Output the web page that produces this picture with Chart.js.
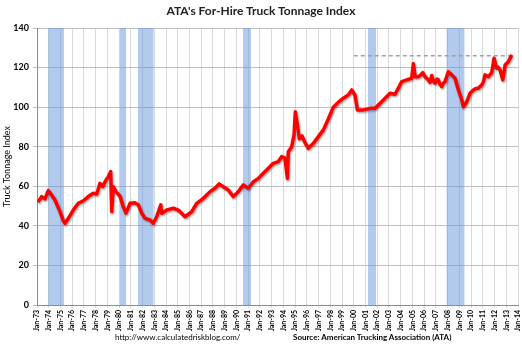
<!DOCTYPE html>
<html lang="en">
<head>
<meta charset="UTF-8">
<title>ATA's For-Hire Truck Tonnage Index</title>
<script src="https://cdn.jsdelivr.net/npm/chart.js"></script>
<style>
    body { margin: 0; background: #fff; font-family: 'Lato', 'Open Sans', sans-serif; }
    .wrap { position: relative; width: 522px; height: 351px; }
    .title { position: absolute; left: 0; width: 522px; top: 3px; text-align: center;
             font-size: 12px; font-weight: bold; color: #222; }
    .foot { position: absolute; top: 332px; font-size: 8px; color: #000; white-space: nowrap; }
    .url { left: 115px; }
    .src { left: 293px; font-weight: bold; }
</style>
</head>
<body>
<div class="wrap">
    <canvas id="chart" width="522" height="351"></canvas>
    <div class="title">ATA's For-Hire Truck Tonnage Index</div>
    <div class="foot url">http://www.calculatedriskblog.com/</div>
    <div class="foot src">Source: American Trucking Association (ATA)</div>
</div>
<script>
// index readings (decimal year, value)
const years = [
    1973.08, 1973.40, 1973.68, 1973.96, 1974.25, 1974.53, 1974.96, 1975.24, 1975.39, 1975.67,
    1976.09, 1976.52, 1976.95, 1977.37, 1977.80, 1978.09, 1978.37, 1978.60, 1978.80, 1979.08,
    1979.28, 1979.37, 1979.50, 1979.73, 1980.08, 1980.33, 1980.59, 1980.93, 1981.35, 1981.64,
    1981.93, 1982.21, 1982.63, 1982.91, 1983.20, 1983.55, 1983.63, 1984.06, 1984.62, 1985.05,
    1985.62, 1986.19, 1986.61, 1987.18, 1987.75, 1988.17, 1988.52, 1988.88, 1989.31, 1989.73,
    1990.16, 1990.59, 1991.01, 1991.44, 1991.87, 1992.29, 1992.72, 1993.14, 1993.57, 1993.86,
    1994.14, 1994.34, 1994.42, 1994.71, 1994.91, 1995.02, 1995.22, 1995.36, 1995.59, 1995.85,
    1996.13, 1996.56, 1996.98, 1997.41, 1997.83, 1998.26, 1998.69, 1999.11, 1999.54, 1999.83,
    2000.11, 2000.31, 2000.82, 2001.39, 2001.82, 2002.10, 2002.67, 2003.09, 2003.52, 2003.80,
    2004.09, 2004.52, 2004.94, 2005.08, 2005.23, 2005.51, 2005.70, 2005.88, 2006.05, 2006.22,
    2006.40, 2006.50, 2006.65, 2006.80, 2006.93, 2007.10, 2007.21, 2007.35, 2007.50, 2007.65,
    2007.78, 2008.06, 2008.35, 2008.63, 2008.92, 2009.21, 2009.34, 2009.50, 2009.63, 2009.91,
    2010.20, 2010.40, 2010.62, 2010.91, 2011.05, 2011.19, 2011.47, 2011.76, 2011.96, 2012.16,
    2012.30, 2012.47, 2012.70, 2012.90, 2013.18, 2013.47
];
const tonnage = [
    52.0, 54.8, 53.6, 57.8, 55.6, 53.1, 47.2, 42.6, 41.3, 43.8,
    48.0, 51.4, 52.7, 54.8, 56.5, 56.1, 61.5, 59.8, 62.3, 64.9,
    67.4, 47.2, 59.8, 57.3, 55.0, 50.0, 46.4, 51.4, 51.7, 50.6,
    46.4, 43.8, 43.0, 41.3, 44.6, 50.6, 46.4, 48.0, 48.9, 48.0,
    44.6, 47.2, 51.4, 53.9, 57.3, 59.0, 61.2, 59.8, 58.1, 54.8,
    57.3, 60.7, 59.0, 62.3, 64.0, 66.6, 69.1, 71.6, 72.5, 75.0,
    74.2, 64.0, 77.5, 80.0, 86.0, 97.7, 90.0, 84.0, 85.5, 82.0,
    79.2, 81.7, 85.1, 88.5, 94.0, 100.0, 102.5, 104.5, 106.2, 108.7,
    106.0, 98.6, 98.6, 99.4, 99.4, 101.1, 104.5, 107.0, 106.5, 109.6,
    112.9, 113.8, 114.6, 122.0, 115.4, 115.4, 116.2, 117.4, 115.6, 114.6,
    113.4, 112.5, 116.0, 113.0, 112.1, 114.2, 113.8, 111.5, 110.4, 112.2,
    112.9, 117.9, 116.3, 114.6, 108.7, 103.6, 100.2, 101.4, 102.8, 107.0,
    108.7, 109.4, 109.6, 111.2, 112.8, 116.3, 115.4, 117.5, 124.7, 119.7,
    120.2, 118.8, 113.8, 121.3, 123.0, 126.4
];

// recession shading (decimal years)
const recessionStart = [1973.95, 1980.05, 1981.60, 1990.55, 2001.20, 2007.90];
const recessionEnd   = [1975.30, 1980.60, 1982.95, 1991.25, 2001.90, 2009.45];

// dashed reference line at the latest high
const peakLevel = 126;
const peakFrom = 2000.0;
const peakTo = 2013.5;

const fontFamily = "'Lato', 'Open Sans', sans-serif";

const datasets = [
    {
        data: years.map((y, i) => ({ x: y, y: tonnage[i] })),
        borderColor: '#ff0000',
        borderWidth: 3.5,
        borderJoinStyle: 'round',
        pointRadius: 0,
        tension: 0,
        fill: false
    },
    {
        data: [{ x: peakFrom, y: peakLevel }, { x: peakTo, y: peakLevel }],
        borderColor: '#a0a0a0',
        borderWidth: 1.5,
        borderDash: [4, 3],
        pointRadius: 0,
        fill: false
    }
];
recessionStart.forEach((s, i) => {
    datasets.push({
        data: [{ x: s, y: 140 }, { x: recessionEnd[i], y: 140 }],
        borderWidth: 0,
        pointRadius: 0,
        backgroundColor: 'rgba(100, 150, 220, 0.5)',
        fill: 'origin'
    });
});

// soft shadow under the red line, like the spreadsheet original
const lineShadow = {
    id: 'lineShadow',
    beforeDatasetDraw(chart, args) {
        if (args.index !== 0) return;
        const ctx = chart.ctx;
        ctx.save();
        ctx.shadowColor = 'rgba(0, 0, 0, 0.35)';
        ctx.shadowBlur = 2;
        ctx.shadowOffsetX = 1;
        ctx.shadowOffsetY = 1.5;
    },
    afterDatasetDraw(chart, args) {
        if (args.index !== 0) return;
        chart.ctx.restore();
    }
};

new Chart(document.getElementById('chart'), {
    type: 'line',
    data: { datasets },
    plugins: [lineShadow],
    options: {
        responsive: false,
        animation: false,
        events: [],
        layout: { padding: { left: 0, right: 0, top: 28, bottom: 0 } },
        plugins: { legend: { display: false }, tooltip: { enabled: false } },
        scales: {
            x: {
                type: 'linear',
                min: 1973,
                max: 2014,
                afterFit: s => { s.height = 46; s.paddingRight = 4; },
                ticks: {
                    stepSize: 1,
                    maxTicksLimit: 60,
                    autoSkip: false,
                    minRotation: 90,
                    maxRotation: 90,
                    padding: 2,
                    color: '#000',
                    font: { family: fontFamily, size: 7, weight: 'bold' },
                    callback: v => 'Jan-' + String(v % 100).padStart(2, '0')
                },
                grid: { color: '#d9d9d9', tickLength: 3 },
                border: { color: '#8c8c8c' }
            },
            y: {
                min: 0,
                max: 140,
                afterFit: s => { s.width = 37; },
                ticks: {
                    stepSize: 20,
                    padding: 4,
                    color: '#000',
                    font: { family: fontFamily, size: 9, weight: 'bold' }
                },
                grid: { color: '#bfbfbf', tickLength: 4 },
                border: { color: '#8c8c8c' },
                title: {
                    display: true,
                    text: 'Truck Tonnage Index',
                    color: '#000',
                    padding: { top: 2, bottom: 0 },
                    font: { family: fontFamily, size: 9 }
                }
            }
        }
    }
});
</script>
</body>
</html>
